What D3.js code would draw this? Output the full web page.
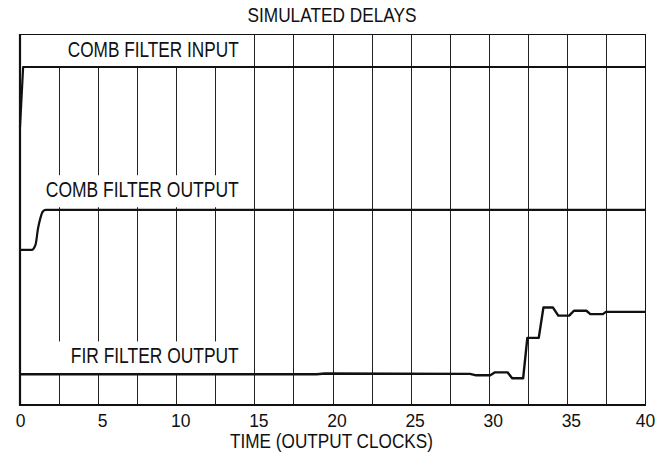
<!DOCTYPE html>
<html>
<head>
<meta charset="utf-8">
<script src="https://cdn.jsdelivr.net/npm/d3@7"></script>
<style>
  html, body { margin: 0; padding: 0; background: #fff; }
  svg { display: block; }
  text { font-family: "Liberation Sans", Arial, sans-serif; fill: #111; }
</style>
</head>
<body>
<svg id="chart" width="668" height="455"></svg>
<script>
// ---- data (time in output clocks, level in arbitrary display units) ----
const xTickLabels = [0, 5, 10, 15, 20, 25, 30, 35, 40];
const gridTimes = [0, 2.5, 5, 7.5, 10, 12.5, 15, 17.5, 20, 22.5, 25, 27.5, 30, 32.5, 35, 37.5, 40];

const combInputT = [0, 0.2, 40];
const combInputV = [74.9, 91.1, 91.1];

const combOutputT = [0, 0.75, 1.0, 1.15, 1.3, 1.45, 1.65, 40];
const combOutputV = [41.8, 41.8, 43.3, 47.5, 50.3, 52.1, 52.6, 52.6];

const firOutputT = [0, 19, 19.5, 28.8, 29.2, 30.1, 30.4, 31.2, 31.5, 32.2, 32.47, 33.2, 33.5, 34.1, 34.45, 35.15, 35.45, 36.25, 36.5, 37.3, 37.5, 40];
const firOutputV = [8.3, 8.3, 8.5, 8.4, 8.0, 8.0, 8.8, 8.8, 7.2, 7.2, 18.1, 18.1, 26.3, 26.3, 24.1, 24.1, 25.4, 25.4, 24.5, 24.5, 25.1, 25.1];

const traceLabels = ["COMB FILTER INPUT", "COMB FILTER OUTPUT", "FIR FILTER OUTPUT"];
const labelLevels = [93.9, 56.0, 11.2];
const labelWidths = [171, 193, 168];

const title = "SIMULATED DELAYS";
const xTitle = "TIME (OUTPUT CLOCKS)";

// ---- layout ----
const W = 668, H = 455;
const margin = { left: 20, right: 23, top: 34, bottom: 50 };
const svg = d3.select("#chart");

const x = d3.scaleLinear().domain([0, 40]).range([margin.left, W - margin.right]);
const y = d3.scaleLinear().domain([0, 100]).range([H - margin.bottom, margin.top]);

// gridlines
svg.append("g").selectAll("line").data(gridTimes).join("line")
  .attr("x1", d => Math.round(x(d)) + 0.5).attr("x2", d => Math.round(x(d)) + 0.5)
  .attr("y1", y(100)).attr("y2", y(0))
  .attr("stroke", "#222").attr("stroke-width", 1);

// white boxes behind the trace labels
svg.append("g").selectAll("rect").data(labelLevels).join("rect")
  .attr("x", x(0) + 2).attr("width", x(14.5) - x(0) - 2)
  .attr("y", d => y(d) - 22).attr("height", 32)
  .attr("fill", "#fff");

// frame
svg.append("line").attr("x1", x(0)).attr("x2", x(40) + 0.5).attr("y1", y(100) + 0.5).attr("y2", y(100) + 0.5)
  .attr("stroke", "#111").attr("stroke-width", 1);
svg.append("line").attr("x1", Math.round(x(40)) + 0.5).attr("x2", Math.round(x(40)) + 0.5).attr("y1", y(100)).attr("y2", y(0))
  .attr("stroke", "#111").attr("stroke-width", 1);
svg.append("line").attr("x1", x(0)).attr("x2", x(0)).attr("y1", y(100)).attr("y2", y(0) + 1)
  .attr("stroke", "#111").attr("stroke-width", 2.2);
svg.append("line").attr("x1", x(0) - 1).attr("x2", x(40) + 1).attr("y1", y(0)).attr("y2", y(0))
  .attr("stroke", "#111").attr("stroke-width", 2.2);

// traces
const line = d3.line().x(d => x(d[0])).y(d => y(d[1]));
const smooth = d3.line().x(d => x(d[0])).y(d => y(d[1])).curve(d3.curveMonotoneX);
const zip = (a, b) => a.map((t, i) => [t, b[i]]);

svg.append("path").attr("d", line(zip(combInputT, combInputV)))
  .attr("fill", "none").attr("stroke", "#111").attr("stroke-width", 2.2).attr("stroke-linejoin", "round");
svg.append("path").attr("d", smooth(zip(combOutputT, combOutputV)))
  .attr("fill", "none").attr("stroke", "#111").attr("stroke-width", 2.2).attr("stroke-linejoin", "round");
svg.append("path").attr("d", line(zip(firOutputT, firOutputV)))
  .attr("fill", "none").attr("stroke", "#111").attr("stroke-width", 2.4).attr("stroke-linejoin", "round");

// trace labels
svg.append("g").selectAll("text").data(traceLabels).join("text")
  .attr("x", x(14)).attr("y", (d, i) => y(labelLevels[i]))
  .attr("text-anchor", "end")
  .attr("font-size", 21.5)
  .attr("textLength", (d, i) => labelWidths[i])
  .attr("lengthAdjust", "spacingAndGlyphs")
  .text(d => d);

// x axis
const xAxis = d3.axisBottom(x).tickValues(xTickLabels).tickSize(0).tickFormat(d3.format("d"));
const gx = svg.append("g").attr("transform", `translate(0,${y(0)})`).call(xAxis);
gx.select(".domain").remove();
gx.selectAll("text")
  .attr("y", 22).attr("dy", 0)
  .attr("font-size", 17.5)
  .attr("font-family", '"Liberation Sans", Arial, sans-serif')
  .attr("fill", "#111")
  .attr("dx", (d, i) => (i === 0 || i === xTickLabels.length - 1) ? 0 : 4);

// titles
svg.append("text").attr("x", 332).attr("y", 21.7).attr("text-anchor", "middle")
  .attr("font-size", 20).attr("textLength", 169).attr("lengthAdjust", "spacingAndGlyphs").text(title);
svg.append("text").attr("x", 331.5).attr("y", 448).attr("text-anchor", "middle")
  .attr("font-size", 19.5).attr("textLength", 203).attr("lengthAdjust", "spacingAndGlyphs").text(xTitle);
</script>
</body>
</html>
